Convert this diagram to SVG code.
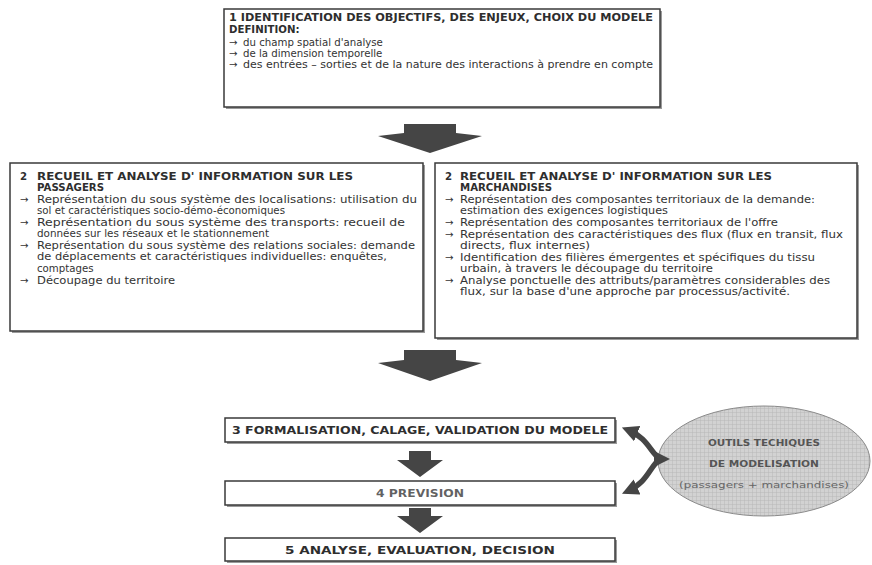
<svg xmlns="http://www.w3.org/2000/svg" width="872" height="565" viewBox="0 0 872 565">
<style>
.box{fill:#fff;stroke:#3a3a3a;stroke-width:1.5}
.shadow{fill:#9a9a9a}
.t{font-family:"DejaVu Sans",Verdana,sans-serif;font-size:10.2px;fill:#333}
.b{font-family:"DejaVu Sans",Verdana,sans-serif;font-size:10.2px;font-weight:bold;fill:#2e2e2e}
.c{text-anchor:middle}
.fat{fill:#454545}
.curve{fill:none;stroke:#454545;stroke-width:5.5}
</style>
<defs>
<pattern id="grid" width="4" height="4" patternUnits="userSpaceOnUse">
<rect width="4" height="4" fill="#d2d2d2"/>
<path d="M0 0H4M0 0V4" stroke="#b8b8b8" stroke-width="1"/>
</pattern>
<marker id="ah" viewBox="0 0 10 10" refX="6" refY="5" markerWidth="3" markerHeight="3" orient="auto-start-reverse">
<path d="M0 0L10 5L0 10z" fill="#454545"/>
</marker>
</defs>
<rect width="872" height="565" fill="#fff"/>

<g id="n1">
<rect x="226" y="11" width="436" height="98" class="shadow"/>
<rect x="224" y="9" width="436" height="98" class="box"/>
<text class="b" x="229" y="21" textLength="424" lengthAdjust="spacingAndGlyphs">1 IDENTIFICATION DES OBJECTIFS, DES ENJEUX, CHOIX DU MODELE</text>
<text class="b" x="229" y="33">DEFINITION:</text>
<text class="t" x="229" y="46">→<tspan x="243">du champ spatial d'analyse</tspan></text>
<text class="t" x="229" y="57">→<tspan x="243">de la dimension temporelle</tspan></text>
<text class="t" x="229" y="68">→<tspan x="243" textLength="410" lengthAdjust="spacingAndGlyphs">des entrées – sorties et de la nature des interactions à prendre en compte</tspan></text>
</g>

<g id="n2a">
<rect x="12" y="165" width="413" height="168" class="shadow"/>
<rect x="10" y="163" width="413" height="168" class="box"/>
<text class="b" x="20" y="180">2<tspan x="37" textLength="316" lengthAdjust="spacingAndGlyphs">RECUEIL ET ANALYSE D' INFORMATION SUR LES</tspan></text>
<text class="b" x="37" y="191">PASSAGERS</text>
<text class="t" x="20" y="203">→<tspan x="37" textLength="380" lengthAdjust="spacingAndGlyphs">Représentation du sous système des localisations: utilisation du</tspan></text>
<text class="t" x="37" y="214" textLength="248" lengthAdjust="spacingAndGlyphs">sol et caractéristiques socio-démo-économiques</text>
<text class="t" x="20" y="226">→<tspan x="37" textLength="368" lengthAdjust="spacingAndGlyphs">Représentation du sous système des transports: recueil de</tspan></text>
<text class="t" x="37" y="237" textLength="232" lengthAdjust="spacingAndGlyphs">données sur les réseaux et le stationnement</text>
<text class="t" x="20" y="249">→<tspan x="37" textLength="378" lengthAdjust="spacingAndGlyphs">Représentation du sous système des relations sociales: demande</tspan></text>
<text class="t" x="37" y="260" textLength="350" lengthAdjust="spacingAndGlyphs">de déplacements et caractéristiques individuelles: enquêtes,</text>
<text class="t" x="37" y="272">comptages</text>
<text class="t" x="20" y="284">→<tspan x="37" textLength="138" lengthAdjust="spacingAndGlyphs">Découpage du territoire</tspan></text>
</g>

<g id="n2b">
<rect x="437" y="165" width="422" height="175" class="shadow"/>
<rect x="435" y="163" width="422" height="175" class="box"/>
<text class="b" x="445" y="180">2<tspan x="460" textLength="312" lengthAdjust="spacingAndGlyphs">RECUEIL ET ANALYSE D' INFORMATION SUR LES</tspan></text>
<text class="b" x="460" y="191">MARCHANDISES</text>
<text class="t" x="445" y="203">→<tspan x="460" textLength="355" lengthAdjust="spacingAndGlyphs">Représentation des composantes territoriaux de la demande:</tspan></text>
<text class="t" x="460" y="214" textLength="208" lengthAdjust="spacingAndGlyphs">estimation des exigences logistiques</text>
<text class="t" x="445" y="226">→<tspan x="460" textLength="318" lengthAdjust="spacingAndGlyphs">Représentation des composantes territoriaux de l'offre</tspan></text>
<text class="t" x="445" y="238">→<tspan x="460" textLength="383" lengthAdjust="spacingAndGlyphs">Représentation des caractéristiques des flux (flux en transit, flux</tspan></text>
<text class="t" x="460" y="249" textLength="130" lengthAdjust="spacingAndGlyphs">directs, flux internes)</text>
<text class="t" x="445" y="261">→<tspan x="460" textLength="355" lengthAdjust="spacingAndGlyphs">Identification des filières émergentes et spécifiques du tissu</tspan></text>
<text class="t" x="460" y="272" textLength="253" lengthAdjust="spacingAndGlyphs">urbain, à travers le découpage du territoire</text>
<text class="t" x="445" y="284">→<tspan x="460" textLength="370" lengthAdjust="spacingAndGlyphs">Analyse ponctuelle des attributs/paramètres considerables des</tspan></text>
<text class="t" x="460" y="295" textLength="330" lengthAdjust="spacingAndGlyphs">flux, sur la base d'une approche par processus/activité.</text>
</g>

<g id="n3">
<rect x="227" y="420" width="390" height="24" class="shadow"/>
<rect x="225" y="418" width="390" height="24" class="box"/>
<text class="b c" x="420" y="434" textLength="376" lengthAdjust="spacingAndGlyphs">3 FORMALISATION, CALAGE, VALIDATION DU MODELE</text>
</g>
<g id="n4">
<rect x="227" y="483" width="390" height="24" class="shadow"/>
<rect x="225" y="481" width="390" height="24" class="box"/>
<text class="b c" x="420" y="497" textLength="88" lengthAdjust="spacingAndGlyphs" fill-opacity="0.75">4 PREVISION</text>
</g>
<g id="n5">
<rect x="227" y="540" width="390" height="23" class="shadow"/>
<rect x="225" y="538" width="390" height="23" class="box"/>
<text class="b c" x="420" y="554" textLength="270" lengthAdjust="spacingAndGlyphs">5 ANALYSE, EVALUATION, DECISION</text>
</g>

<g id="n6">
<ellipse cx="764" cy="461" rx="106" ry="55" fill="url(#grid)" stroke="#8a8a8a" stroke-width="1"/>
<text class="b c" x="764" y="446" textLength="112" lengthAdjust="spacingAndGlyphs" style="fill:#555;font-size:9.5px">OUTILS TECHIQUES</text>
<text class="b c" x="764" y="467" textLength="110" lengthAdjust="spacingAndGlyphs" style="fill:#555;font-size:9.5px">DE MODELISATION</text>
<text class="t c" x="764" y="488" textLength="170" lengthAdjust="spacingAndGlyphs" style="fill:#666;font-size:9px">(passagers + marchandises)</text>
</g>

<g id="connectors">
<polygon class="fat" points="404,124 456,124 456,133 482,136 430,153 378,136 404,133"/>
<polygon class="fat" points="404,350 456,350 456,360 482,363 430,381 378,363 404,360"/>
<polygon class="fat" points="409,451 431,451 431,460 443,460 420,477 397,460 409,460"/>
<polygon class="fat" points="409,508 431,508 431,516 443,516 420,533 397,516 409,516"/>
<path class="curve" d="M628,430 C648,438 650,452 660,459 C650,466 648,482 628,491" marker-start="url(#ah)" marker-end="url(#ah)"/>
<polygon class="fat" points="654,451 670,459 654,467"/>
</g>
</svg>
